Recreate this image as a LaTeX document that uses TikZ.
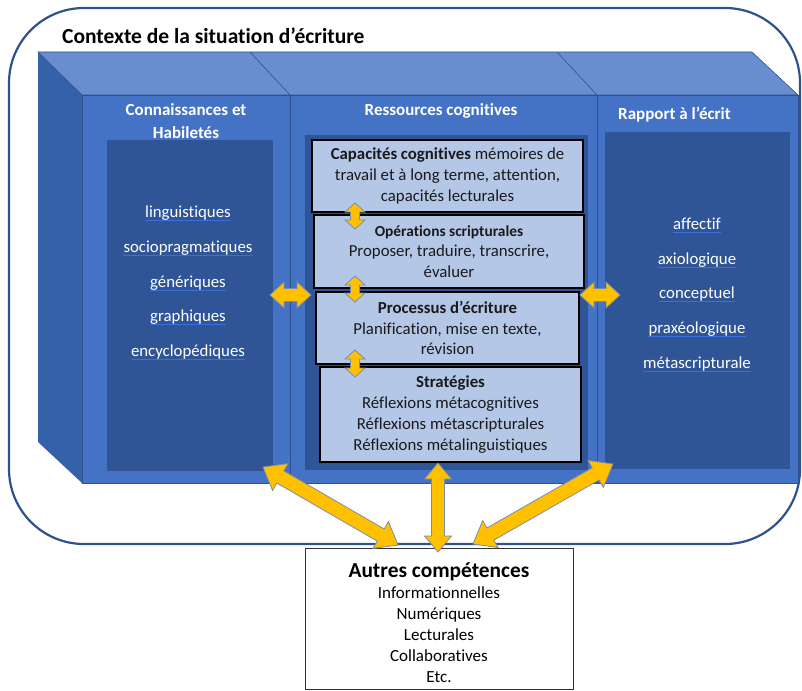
\documentclass[tikz,border=0pt]{standalone}
\usepackage{fontspec}
\setmainfont{Carlito}[Ligatures={NoCommon}]
\usetikzlibrary{calc}
\definecolor{frontc}{HTML}{4472C4}
\definecolor{topc}{HTML}{698ED0}
\definecolor{sidec}{HTML}{3561A9}
\definecolor{innerc}{HTML}{2F5597}
\definecolor{edgec}{HTML}{2F528F}
\definecolor{boxc}{HTML}{B4C7E7}
\definecolor{goldc}{HTML}{FFC000}
\definecolor{goldedge}{HTML}{7C8DA8}
\definecolor{ulc}{HTML}{3B6FE0}
\definecolor{txtc}{HTML}{1A1A1A}
\newdimen\arAx \newdimen\arAy \newdimen\arBx \newdimen\arBy
\newcommand\dblarrow[5]{%
  \pgfextractx{\arAx}{\pgfpointanchor{#1}{center}}%
  \pgfextracty{\arAy}{\pgfpointanchor{#1}{center}}%
  \pgfextractx{\arBx}{\pgfpointanchor{#2}{center}}%
  \pgfextracty{\arBy}{\pgfpointanchor{#2}{center}}%
  \edef\arax{\the\arAx}\edef\aray{\the\arAy}%
  \pgfmathsetmacro\arang{atan2(\arBy-\arAy,\arBx-\arAx)}%
  \pgfmathsetmacro\arlen{veclen(\arBx-\arAx,\arBy-\arAy)}%
  \pgfmathsetmacro\arend{\arlen-#5}%
  \begin{scope}[shift={(\arax,\aray)},rotate=\arang,x=1pt,y=1pt]
    \filldraw[arrowfill] (0,0) -- (#5,#4) -- (#5,#3) -- (\arend,#3) -- (\arend,#4)
      -- (\arlen,0) -- (\arend,-#4) -- (\arend,-#3) -- (#5,-#3) -- (#5,-#4) -- cycle;
  \end{scope}}
\tikzset{
  arrowfill/.style={fill=goldc,draw=goldedge,line width=0.8pt,line join=miter},
  frontface/.style={fill=frontc,draw=edgec,line width=0.7pt},
  innerrect/.style={fill=innerc,draw=none},
  cogbox/.style={draw=black,line width=1.2pt,fill=boxc,inner sep=0pt,align=center,
    text=txtc,font=\fontsize{16.8}{20.7}\selectfont},
  hdr/.style={text=white,inner sep=0pt,font=\fontsize{17}{20}\selectfont\bfseries},
  item/.style={text=white,inner sep=0pt,font=\fontsize{16.8}{20}\selectfont},
  uline/.style={draw=ulc,line width=1.1pt},
  outerframe/.style={draw=edgec,line width=2.2pt,rounded corners=75pt}
}
\begin{document}
\begin{tikzpicture}[x=1pt,y=-1pt]
\useasboundingbox (0,0) rectangle (802,690);
% outer context frame
\draw[outerframe] (9,8) rectangle (800,544);
\node[anchor=base west,inner sep=0pt,font=\fontsize{21.5}{24}\selectfont\bfseries,text=black] (title) at (62,44) {Contexte de la situation d’écriture};
% 3D blocks
\fill[sidec] (38,52) -- (82,94) -- (82,483) -- (38,442) -- cycle;
\filldraw[fill=topc,draw=edgec,line width=0.6pt] (38,52) -- (752,52) -- (798,95) -- (82,95) -- cycle;
\draw[edgec,line width=0.6pt] (250,52) -- (290,95);
\draw[edgec,line width=0.6pt] (557,52) -- (597,95);
\draw[frontface] (82,95) rectangle (290,483);
\draw[frontface] (290,95) rectangle (597,483);
\draw[frontface] (597,95) rectangle (798,483);
\fill[innerc] (107,140) rectangle (273,471);
\fill[innerc] (305,135) rectangle (588,470);
\fill[innerc] (605,132) rectangle (790,469);
% headers
\node[hdr,anchor=base] (h1a) at (186,115) {Connaissances et};
\node[hdr,anchor=base] (h1b) at (186,138) {Habiletés};
\node[hdr,anchor=base] (h2) at (441,116) {Ressources cognitives};
\node[hdr,anchor=base west] (h3) at (618,120) {Rapport à l’écrit};
% left items
\foreach \n/\t/\y in {k1/linguistiques/217,k2/sociopragmatiques/252,k3/génériques/287,k4/graphiques/321,k5/encyclopédiques/356}{
  \node[item,anchor=base] (\n) at (188,\y) {\t};
  \draw[uline] ([yshift=-3.5pt]\n.base west) -- ([yshift=-3.5pt]\n.base east);
}
% right items
\foreach \n/\t/\y in {r1/affectif/229,r2/axiologique/264,r3/conceptuel/298,r4/praxéologique/333,r5/métascripturale/368}{
  \node[item,anchor=base] (\n) at (697,\y) {\t};
  \draw[uline] ([yshift=-3.5pt]\n.base west) -- ([yshift=-3.5pt]\n.base east);
}
% cognitive boxes
\node[cogbox,minimum width=271pt,minimum height=72pt] (b1) at (447.5,176)
  {\textbf{Capacités cognitives} mémoires de\\travail et à long terme, attention,\\capacités lecturales};
\node[cogbox,minimum width=270pt,minimum height=73pt] (b2) at (449,251.5)
  {{\fontsize{15.4}{20.7}\selectfont\bfseries Opérations scripturales}\\Proposer, traduire, transcrire,\\évaluer};
\node[cogbox,minimum width=263pt,minimum height=72pt] (b3) at (447.5,328)
  {\textbf{Processus d’écriture}\\Planification, mise en texte,\\révision};
\node[cogbox,minimum width=261pt,minimum height=95pt] (b4) at (450.5,414.5)
  {\textbf{Stratégies}\\Réflexions métacognitives\\Réflexions métascripturales\\Réflexions métalinguistiques};
% other competences
\node[draw=black!80,line width=1pt,fill=white,minimum width=268pt,minimum height=141pt,inner sep=0pt] (autres) at (439,619) {};
\node[align=center,inner sep=0pt,text=black,font=\fontsize{17}{21}\selectfont] (autrestxt) at (439,623)
  {{\fontsize{21.4}{21}\selectfont\bfseries Autres compétences}\\Informationnelles\\Numériques\\Lecturales\\Collaboratives\\Etc.};
% arrow end points
\coordinate (s1a) at (355,203); \coordinate (s1b) at (355,229);
\coordinate (s2a) at (355,276); \coordinate (s2b) at (355,302);
\coordinate (s3a) at (355,350); \coordinate (s3b) at (355,377);
\coordinate (hla) at (270,295); \coordinate (hlb) at (311,295);
\coordinate (hra) at (580,295); \coordinate (hrb) at (620,295);
\coordinate (dla) at (263,467); \coordinate (dlb) at (398,545);
\coordinate (dma) at (438,463); \coordinate (dmb) at (438,552);
\coordinate (dra) at (613,464); \coordinate (drb) at (473,544);
\dblarrow{s1a}{s1b}{4.5}{10}{9}
\dblarrow{s2a}{s2b}{4.5}{10}{9}
\dblarrow{s3a}{s3b}{4.5}{10}{9}
\dblarrow{hla}{hlb}{6.5}{13}{14}
\dblarrow{hra}{hrb}{6.5}{13}{14}
\dblarrow{dla}{dlb}{7}{15.5}{20}
\dblarrow{dma}{dmb}{6.5}{13.5}{16}
\dblarrow{dra}{drb}{7}{15.5}{20}
\end{tikzpicture}
\end{document}
